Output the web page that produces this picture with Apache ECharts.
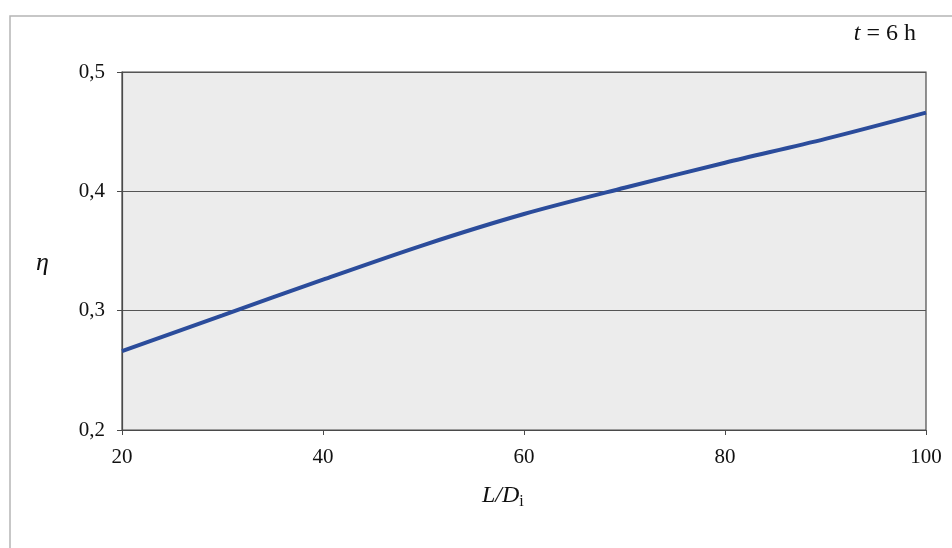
<!DOCTYPE html>
<html>
<head>
<meta charset="utf-8">
<script src="https://cdn.jsdelivr.net/npm/echarts@6/dist/echarts.min.js"></script>
<style>
html,body{margin:0;padding:0;background:#fff;}
#c{width:952px;height:548px;}
</style>
</head>
<body>
<div id="c"></div>
<script>
// Data
var xValues = [20, 30, 40, 50, 60, 70, 80, 90, 100];
var etaValues = [0.266, 0.296, 0.326, 0.355, 0.381, 0.403, 0.424, 0.444, 0.466];
var xTicks = [20, 40, 60, 80, 100];
var yTicks = [0.2, 0.3, 0.4, 0.5];

var seriesData = xValues.map(function (x, i) { return [x, etaValues[i]]; });
var FONT = '"Liberation Serif", "DejaVu Serif", serif';

var chart = echarts.init(document.getElementById('c'), null, {renderer: 'canvas'});
chart.setOption({
  animation: false,
  backgroundColor: '#ffffff',
  grid: {
    left: 122, right: 26, top: 72, bottom: 118,
    show: true,
    backgroundColor: '#ececec',
    borderColor: '#4a4a4a',
    borderWidth: 1.2
  },
  graphic: [
    {
      type: 'rect', z: -10,
      shape: {x: 10, y: 16, width: 960, height: 560},
      style: {fill: 'none', stroke: '#b5b5b5', lineWidth: 1.5}
    },
    {
      type: 'text', right: 36, top: 22,
      style: {
        text: '{i|t} = 6 h',
        rich: {i: {fontStyle: 'italic', fontFamily: FONT, fontSize: 24, fill: '#111'}},
        fontFamily: FONT, fontSize: 24, fill: '#111'
      }
    },
    {
      type: 'text', left: 36, top: 250,
      style: {text: 'η', fontFamily: FONT, fontStyle: 'italic', fontSize: 26, fill: '#111'}
    },
    {
      type: 'text', left: 482, top: 484,
      style: {
        text: '{i|L}{n|/}{i|D}{s|i}',
        rich: {
          i: {fontStyle: 'italic', fontFamily: FONT, fontSize: 24, fill: '#111'},
          n: {fontStyle: 'italic', fontFamily: FONT, fontSize: 24, fill: '#111'},
          s: {fontFamily: FONT, fontSize: 16, fill: '#111', padding: [12, 0, 0, 0]}
        }
      }
    }
  ],
  xAxis: {
    type: 'value', min: xTicks[0], max: xTicks[xTicks.length - 1], interval: 20,
    axisLine: {show: true, lineStyle: {color: '#4a4a4a', width: 1.2}},
    axisTick: {show: true, inside: false, length: 5, lineStyle: {color: '#4a4a4a'}},
    axisLabel: {fontFamily: FONT, fontSize: 21, color: '#111', margin: 17},
    splitLine: {show: false}
  },
  yAxis: {
    type: 'value', min: yTicks[0], max: yTicks[yTicks.length - 1], interval: 0.1,
    axisLine: {show: true, lineStyle: {color: '#4a4a4a', width: 1.2}},
    axisTick: {show: true, inside: false, length: 5, lineStyle: {color: '#4a4a4a'}},
    axisLabel: {
      fontFamily: FONT, fontSize: 21, color: '#111', margin: 17,
      formatter: function (v) { return v.toFixed(1).replace('.', ','); }
    },
    splitLine: {show: true, lineStyle: {color: '#555', width: 1}}
  },
  series: [{
    type: 'line',
    data: seriesData,
    showSymbol: false,
    smooth: 0.3,
    lineStyle: {color: '#2b4c9b', width: 4}
  }]
});
</script>
</body>
</html>
